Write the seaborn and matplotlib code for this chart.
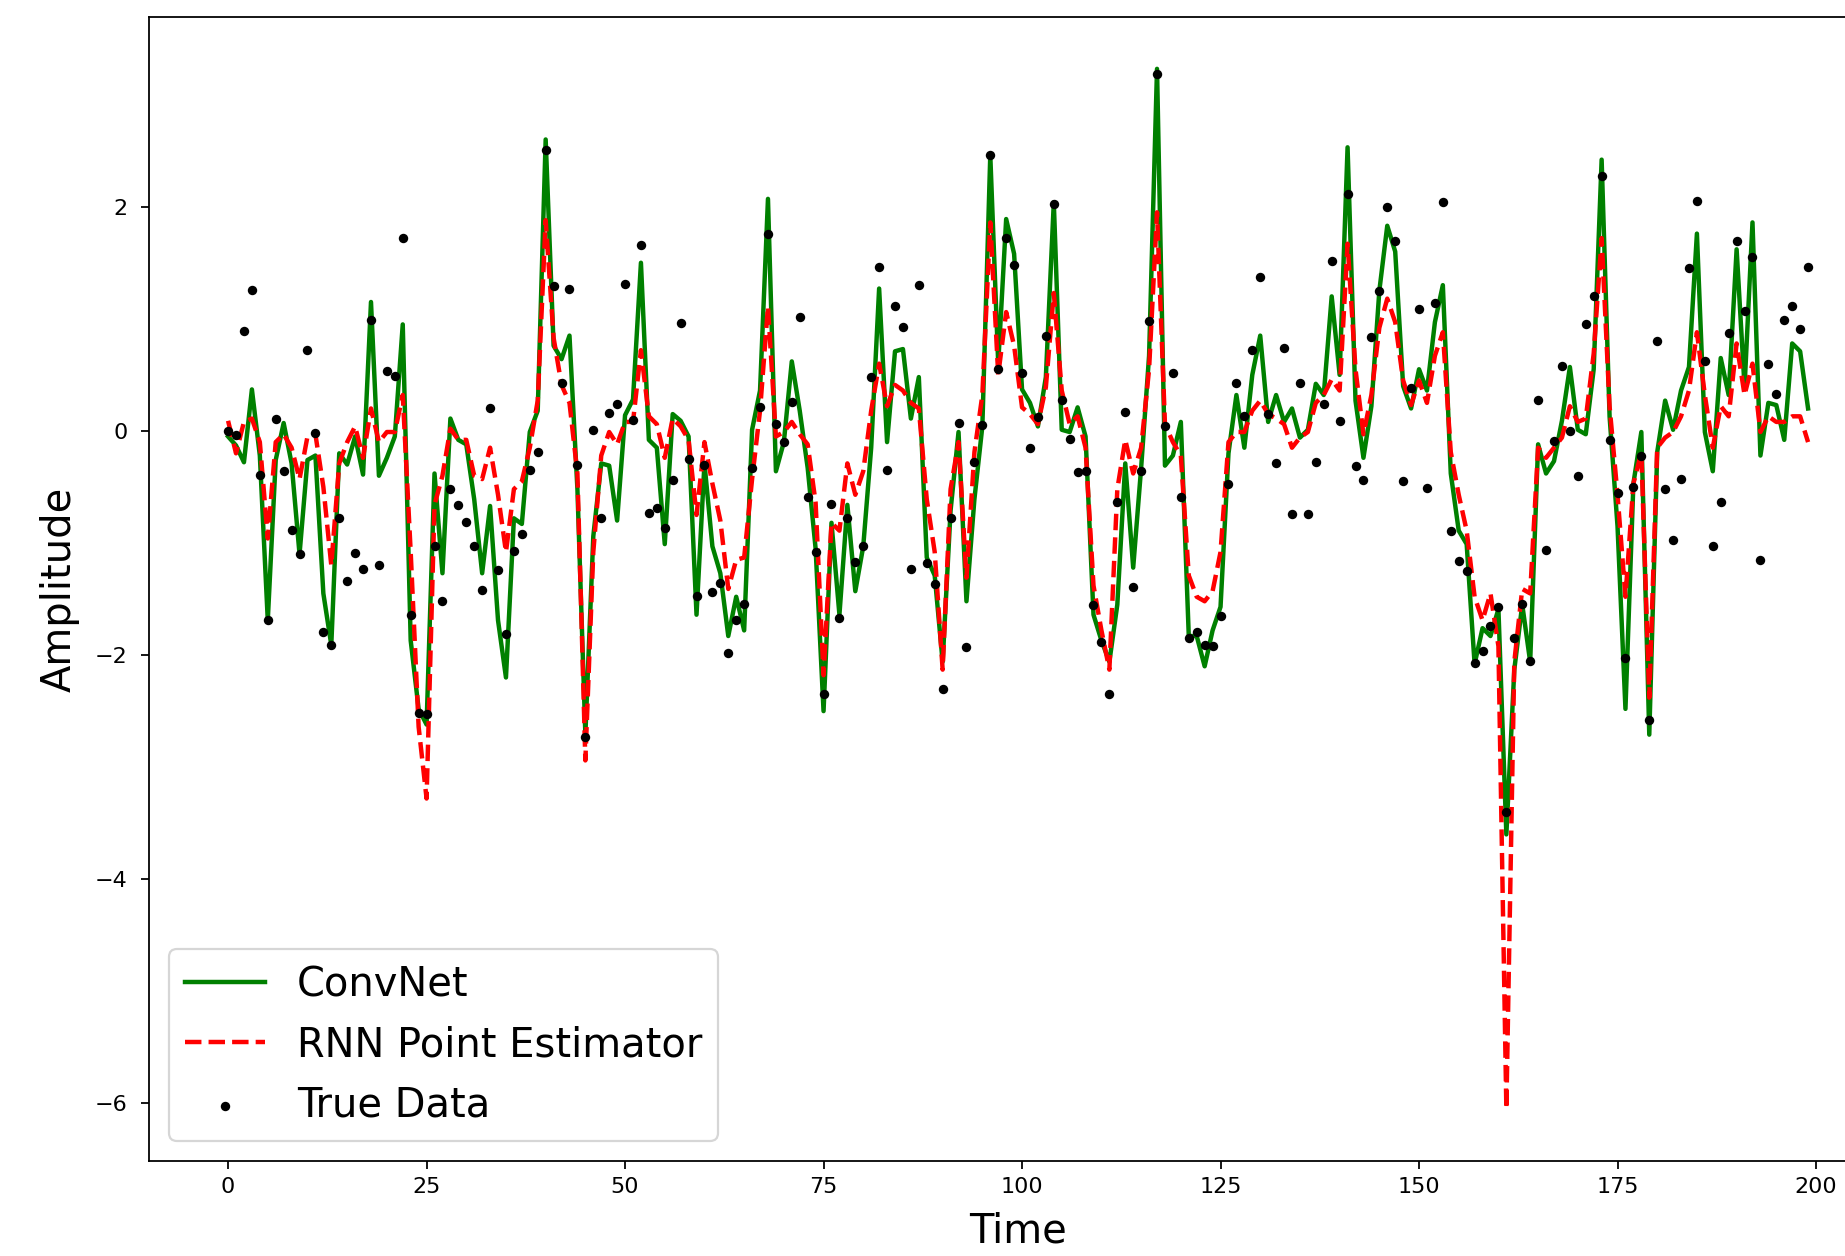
import matplotlib
matplotlib.use("Agg")
import matplotlib.pyplot as plt
import numpy as np
import seaborn as sns

# time index 0..199
time = np.arange(200)

true_data = [
    0.00, -0.04, 0.89, 1.26, -0.39, -1.69, 0.11, -0.36, -0.88, -1.10,
    0.72, -0.02, -1.79, -1.91, -0.78, -1.34, -1.09, -1.23, 0.99, -1.20,
    0.53, 0.49, 1.72, -1.64, -2.52, -2.53, -1.03, -1.52, -0.52, -0.66,
    -0.81, -1.03, -1.42, 0.20, -1.24, -1.81, -1.07, -0.92, -0.35, -0.19,
    2.51, 1.29, 0.43, 1.27, -0.30, -2.73, 0.01, -0.78, 0.16, 0.24,
    1.31, 0.10, 1.66, -0.73, -0.69, -0.87, -0.44, 0.96, -0.25, -1.47,
    -0.30, -1.44, -1.36, -1.98, -1.69, -1.54, -0.33, 0.21, 1.76, 0.06,
    -0.10, 0.26, 1.02, -0.59, -1.08, -2.35, -0.65, -1.67, -0.78, -1.17,
    -1.03, 0.48, 1.46, -0.35, 1.11, 0.93, -1.23, 1.30, -1.18, -1.37,
    -2.30, -0.78, 0.07, -1.93, -0.28, 0.05, 2.46, 0.55, 1.72, 1.48,
    0.52, -0.15, 0.12, 0.85, 2.02, 0.28, -0.07, -0.37, -0.36, -1.55,
    -1.88, -2.35, -0.63, 0.17, -1.39, -0.36, 0.98, 3.18, 0.04, 0.52,
    -0.59, -1.85, -1.79, -1.91, -1.92, -1.65, -0.47, 0.43, 0.13, 0.72,
    1.37, 0.15, -0.29, 0.74, -0.74, 0.43, -0.74, -0.28, 0.24, 1.52,
    0.09, 2.11, -0.31, -0.44, 0.84, 1.25, 2.00, 1.69, -0.45, 0.38,
    1.09, -0.51, 1.14, 2.04, -0.89, -1.16, -1.25, -2.07, -1.96, -1.74,
    -1.57, -3.40, -1.85, -1.54, -2.05, 0.28, -1.06, -0.09, 0.58, 0.00,
    -0.40, 0.95, 1.20, 2.27, -0.08, -0.55, -2.03, -0.50, -0.22, -2.58,
    0.80, -0.52, -0.97, -0.43, 1.45, 2.05, 0.62, -1.03, -0.63, 0.87,
    1.69, 1.07, 1.55, -1.15, 0.60, 0.33, 0.99, 1.11, 0.91, 1.46,
]

convnet = [
    -0.05, -0.13, -0.28, 0.37, -0.22, -1.69, -0.26, 0.07, -0.29, -1.10,
    -0.26, -0.22, -1.45, -1.91, -0.20, -0.30, -0.05, -0.39, 1.15, -0.40,
    -0.24, -0.05, 0.95, -1.87, -2.48, -2.62, -0.38, -1.27, 0.11, -0.08,
    -0.12, -0.61, -1.27, -0.67, -1.69, -2.20, -0.78, -0.83, -0.01, 0.18,
    2.60, 0.76, 0.64, 0.85, -0.52, -2.71, -0.94, -0.29, -0.31, -0.80,
    0.14, 0.28, 1.50, -0.08, -0.15, -1.01, 0.15, 0.09, -0.05, -1.64,
    -0.29, -1.03, -1.27, -1.83, -1.48, -1.78, 0.01, 0.36, 2.07, -0.36,
    -0.10, 0.62, 0.18, -0.33, -1.05, -2.50, -0.82, -1.64, -0.66, -1.43,
    -1.03, -0.15, 1.27, -0.10, 0.71, 0.73, 0.11, 0.48, -1.13, -1.29,
    -2.06, -0.71, -0.01, -1.52, -0.61, 0.04, 2.46, 0.60, 1.89, 1.58,
    0.37, 0.25, 0.04, 0.48, 2.04, 0.01, -0.01, 0.21, -0.05, -1.64,
    -1.87, -2.06, -1.55, -0.29, -1.22, -0.33, 0.67, 3.23, -0.31, -0.22,
    0.08, -1.83, -1.83, -2.10, -1.78, -1.57, -0.20, 0.32, -0.15, 0.50,
    0.85, 0.08, 0.32, 0.08, 0.20, -0.06, 0.01, 0.42, 0.32, 1.20,
    0.50, 2.53, 0.27, -0.24, 0.22, 1.25, 1.83, 1.60, 0.40, 0.20,
    0.55, 0.36, 0.97, 1.30, -0.38, -0.89, -1.01, -2.08, -1.76, -1.83,
    -1.59, -3.60, -2.13, -1.55, -2.06, -0.12, -0.38, -0.27, 0.09, 0.57,
    0.01, -0.03, 0.55, 2.42, 0.13, -0.85, -2.48, -0.47, -0.01, -2.71,
    -0.19, 0.27, 0.01, 0.36, 0.57, 1.76, -0.01, -0.36, 0.65, 0.32,
    1.62, 0.39, 1.86, -0.22, 0.25, 0.23, -0.08, 0.78, 0.71, 0.20,
]

rnn_point = [
    0.09, -0.20, 0.08, 0.11, -0.10, -0.96, -0.10, -0.03, -0.15, -0.43,
    -0.05, -0.03, -0.50, -1.20, -0.29, -0.10, 0.04, -0.24, 0.20, -0.10,
    -0.01, -0.01, 0.32, -1.08, -2.64, -3.28, -0.66, -0.40, 0.02, -0.08,
    -0.08, -0.40, -0.43, -0.15, -0.57, -1.08, -0.52, -0.45, -0.15, 0.27,
    1.88, 0.83, 0.41, 0.25, -0.38, -2.94, -1.08, -0.22, -0.01, -0.12,
    0.08, 0.08, 0.72, 0.13, 0.06, -0.24, 0.11, 0.04, -0.08, -0.75,
    -0.10, -0.47, -0.80, -1.41, -1.15, -1.13, -0.43, 0.18, 1.11, -0.05,
    -0.01, 0.08, -0.03, -0.12, -0.64, -2.18, -0.82, -0.89, -0.29, -0.57,
    -0.36, 0.18, 0.60, 0.22, 0.41, 0.36, 0.25, 0.20, -0.61, -1.08,
    -2.13, -0.52, -0.10, -1.31, -0.19, 0.32, 1.86, 0.50, 1.06, 0.76,
    0.21, 0.15, 0.06, 0.39, 1.23, 0.36, 0.06, 0.13, -0.15, -1.38,
    -1.78, -2.13, -0.52, -0.08, -0.38, -0.15, 0.55, 1.95, 0.06, -0.10,
    -0.22, -1.29, -1.48, -1.52, -1.43, -1.08, -0.10, -0.01, -0.01, 0.18,
    0.27, 0.15, 0.11, 0.06, -0.15, -0.06, -0.01, 0.25, 0.32, 0.46,
    0.36, 1.67, 0.55, -0.03, 0.32, 0.92, 1.18, 0.97, 0.45, 0.23,
    0.45, 0.25, 0.67, 0.88, -0.19, -0.57, -0.89, -1.48, -1.69, -1.45,
    -1.92, -6.05, -2.06, -1.41, -1.45, -0.15, -0.24, -0.15, -0.06, 0.22,
    0.08, 0.11, 0.69, 1.72, 0.22, -0.57, -1.48, -0.47, -0.19, -2.38,
    -0.15, -0.06, -0.01, 0.13, 0.36, 0.88, 0.32, -0.15, 0.22, 0.13,
    0.78, 0.32, 0.60, -0.01, 0.13, 0.08, 0.08, 0.13, 0.13, -0.10,
]

# original looks like a 160 dpi export, so scale default sizes by 1.6
plt.rcParams.update({
    "font.family": ["DejaVu Sans"],
    "axes.linewidth": 1.28,
    "xtick.major.width": 1.28,
    "ytick.major.width": 1.28,
    "xtick.major.size": 5.6,
    "ytick.major.size": 5.6,
    "xtick.major.pad": 5.6,
    "ytick.major.pad": 10,
    "xtick.labelsize": 16,
    "ytick.labelsize": 16,
    "axes.labelsize": 28.8,
    "axes.labelpad": 11,
    "legend.fontsize": 28.8,
    "patch.linewidth": 1.6,
})

fig = plt.figure(figsize=(18.45, 12.56), dpi=100)
# the right edge of the axes runs past the canvas, as in the cropped original
ax = fig.add_axes([0.0808, 0.0756, 0.942, 0.911])

sns.lineplot(x=time, y=convnet, ax=ax, color="g", linewidth=3.2,
             label="ConvNet", sort=False, estimator=None)
sns.lineplot(x=time, y=rnn_point, ax=ax, color="r", linewidth=3.2,
             linestyle="--", label="RNN Point Estimator", sort=False, estimator=None)
sns.scatterplot(x=time, y=true_data, ax=ax, color="k", s=46, linewidth=0,
                label="True Data", zorder=3)

ax.spines["right"].set_visible(False)
ax.set_xticks([0, 25, 50, 75, 100, 125, 150, 175, 200])
ax.set_yticks([-6, -4, -2, 0, 2])
ax.set_xlabel("Time")
ax.set_ylabel("Amplitude")
ax.legend(loc="lower left")

fig.savefig("out.png", dpi=100)
